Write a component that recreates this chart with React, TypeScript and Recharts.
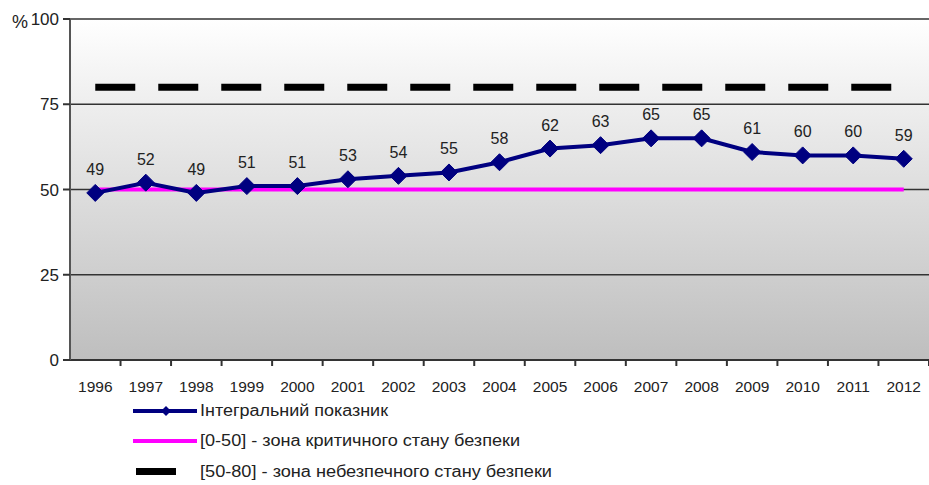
import React from 'react';
import { ComposedChart, Line, XAxis, YAxis, CartesianGrid, LabelList } from 'recharts';

const years = ['1996','1997','1998','1999','2000','2001','2002','2003','2004','2005','2006','2007','2008','2009','2010','2011','2012'];
const integral = [49,52,49,51,51,53,54,55,58,62,63,65,65,61,60,60,59];
const critical = [50,50,50,50,50,50,50,50,50,50,50,50,50,50,50,50,50];
const danger = [80,80,80,80,80,80,80,80,80,80,80,80,80,80,80,80,80];
const yTicks = [0,25,50,75,100];
const legendLabels = ['Інтегральний показник','[0-50] - зона критичного стану безпеки','[50-80] - зона небезпечного стану безпеки'];

const data = years.map((y, i) => ({ year: y, integral: integral[i], critical: critical[i], danger: danger[i] }));

const FONT = '"Liberation Sans", Arial, sans-serif';
const CH_W = 929;
const CH_H = 400;
const M = { top: 19, right: 0, left: 0, bottom: 0 };
const Y_W = 70;
const BAND = (CH_W - M.right - Y_W) / years.length;

const Diamond = (props: any) => {
  const { cx, cy } = props;
  if (cx == null || cy == null) return null;
  const r = 8.5;
  return <polygon points={`${cx},${cy - r} ${cx + r},${cy} ${cx},${cy + r} ${cx - r},${cy}`} fill="#000080" stroke="#000080" strokeWidth={1} />;
};

const YTick = (props: any) => {
  const { x, y, payload } = props;
  return (
    <g>
      <text x={x - 2} y={y} dy={6} textAnchor="end" fontFamily={FONT} fontSize={17} fill="#222">{payload.value}</text>
      {payload.value === 100 && (
        <text x={x - 33} y={y} dy={9} textAnchor="end" fontFamily={FONT} fontSize={18} fill="#222">%</text>
      )}
    </g>
  );
};

const XTick = (props: any) => {
  const { x, y, payload } = props;
  return (
    <g>
      <line x1={x + BAND / 2} x2={x + BAND / 2} y1={y - 8} y2={y - 2} stroke="#333" strokeWidth={2} />
      <text x={x} y={y} dy={24} textAnchor="middle" fontFamily={FONT} fontSize={15.5} fill="#222">{payload.value}</text>
    </g>
  );
};

const LegendBox = () => (
  <div style={{ position: 'absolute', left: 0, top: 395, width: 929, height: 90 }}>
    <svg width={929} height={90} style={{ position: 'absolute', left: 0, top: 0 }}>
      <line x1={133} x2={197} y1={16} y2={16} stroke="#000080" strokeWidth={4} />
      <polygon points="166,11 171,16 166,21 161,16" fill="#000080" />
      <line x1={133} x2={197} y1={46} y2={46} stroke="#ff00ff" strokeWidth={4} />
      <rect x={136} y={73} width={40} height={7} fill="#000" />
      <text x={200} y={21} fontFamily={FONT} fontSize={16} fill="#222" textLength={188} lengthAdjust="spacingAndGlyphs">{legendLabels[0]}</text>
      <text x={200} y={51} fontFamily={FONT} fontSize={16} fill="#222" textLength={320} lengthAdjust="spacingAndGlyphs">{legendLabels[1]}</text>
      <text x={200} y={82} fontFamily={FONT} fontSize={16} fill="#222" textLength={352} lengthAdjust="spacingAndGlyphs">{legendLabels[2]}</text>
    </svg>
  </div>
);

export default function App() {
  return (
    <div style={{ position: 'absolute', left: 0, top: 0, width: 929, height: 485, overflow: 'hidden', background: '#fff' }}>
      <ComposedChart width={CH_W} height={CH_H} data={data} margin={M}>
        <defs>
          <linearGradient id="bgGrad" x1="0" y1="0" x2="0" y2="1">
            <stop offset="0%" stopColor="#ffffff" />
            <stop offset="25%" stopColor="#eeeeee" />
            <stop offset="100%" stopColor="#bebebe" />
          </linearGradient>
        </defs>
        <CartesianGrid vertical={false} stroke="#333" strokeWidth={1.5} fill="url(#bgGrad)" fillOpacity={1} />
        <XAxis
          dataKey="year"
          height={CH_H - M.top - 341}
          tick={<XTick />}
          tickLine={false}
          axisLine={{ stroke: '#333', strokeWidth: 2 }}
          interval={0}
          padding={{ left: BAND / 2, right: BAND / 2 }}
        />
        <YAxis
          width={Y_W}
          domain={[0, 100]}
          ticks={yTicks}
          tick={<YTick />}
          tickSize={7}
          tickLine={{ stroke: '#333', strokeWidth: 2 }}
          axisLine={{ stroke: '#555', strokeWidth: 2 }}
          interval={0}
        />
        <Line dataKey="danger" stroke="#000" strokeWidth={7} strokeDasharray="40 23" dot={false} activeDot={false} isAnimationActive={false} />
        <Line dataKey="critical" stroke="#ff00ff" strokeWidth={4} dot={false} activeDot={false} isAnimationActive={false} />
        <Line dataKey="integral" stroke="#000080" strokeWidth={4} dot={<Diamond />} activeDot={false} isAnimationActive={false}>
          <LabelList dataKey="integral" position="top" offset={18} fontFamily={FONT} fontSize={16} fill="#222" />
        </Line>
      </ComposedChart>
      <LegendBox />
    </div>
  );
}
